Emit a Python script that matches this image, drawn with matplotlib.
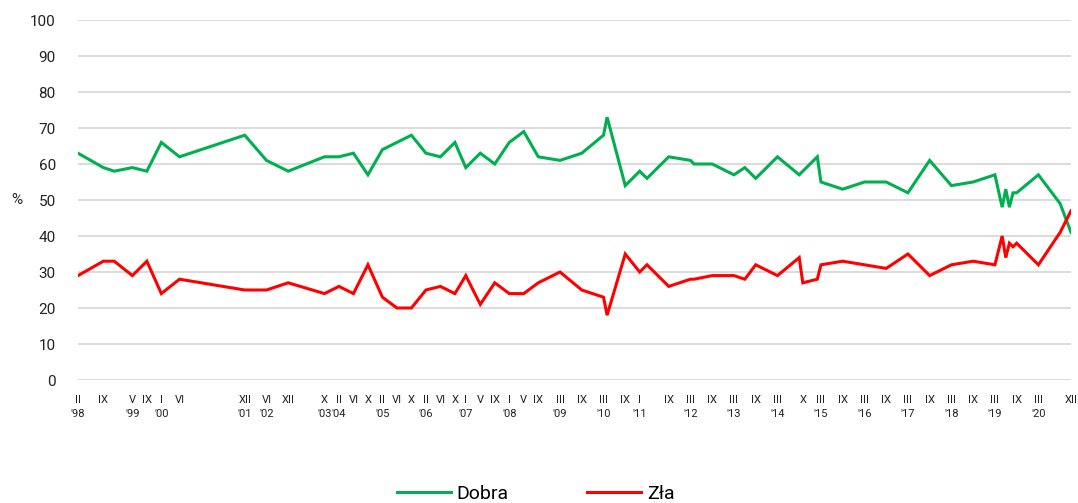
import matplotlib.pyplot as plt
import matplotlib.transforms as mtransforms

plt.rcParams['font.family'] = ['Roboto', 'DejaVu Sans']

# ======================
# data (survey dates, % answers)
# ======================
dates = [
    "1998-02", "1998-09", "1998-12", "1999-05", "1999-09", "2000-01", "2000-06",
    "2001-12", "2002-06", "2002-12", "2003-10", "2004-02", "2004-06", "2004-10",
    "2005-02", "2005-06", "2005-10", "2006-02", "2006-06", "2006-10", "2007-01",
    "2007-05", "2007-09", "2008-01", "2008-05", "2008-09", "2009-03", "2009-09",
    "2010-03", "2010-04", "2010-09", "2011-01", "2011-03", "2011-09", "2012-03",
    "2012-04", "2012-09", "2013-03", "2013-06", "2013-09", "2014-03", "2014-09",
    "2014-10", "2015-02", "2015-03", "2015-09", "2016-03", "2016-09", "2017-03",
    "2017-09", "2018-03", "2018-09", "2019-03", "2019-05", "2019-06", "2019-07",
    "2019-08", "2019-09", "2020-03", "2020-09", "2020-12",
]
dobra = [
    63, 59, 58, 59, 58, 66, 62,
    68, 61, 58, 62, 62, 63, 57,
    64, 66, 68, 63, 62, 66, 59,
    63, 60, 66, 69, 62, 61, 63,
    68, 73, 54, 58, 56, 62, 61,
    60, 60, 57, 59, 56, 62, 57,
    58, 62, 55, 53, 55, 55, 52,
    61, 54, 55, 57, 48, 53, 48,
    52, 52, 57, 49, 41,
]
zla = [
    29, 33, 33, 29, 33, 24, 28,
    25, 25, 27, 24, 26, 24, 32,
    23, 20, 20, 25, 26, 24, 29,
    21, 27, 24, 24, 27, 30, 25,
    23, 18, 35, 30, 32, 26, 28,
    28, 29, 29, 28, 32, 29, 34,
    27, 28, 32, 33, 32, 31, 35,
    29, 32, 33, 32, 40, 34, 38,
    37, 38, 32, 41, 47,
]

tick_dates = [
    "1998-02", "1998-09", "1999-05", "1999-09", "2000-01", "2000-06", "2001-12",
    "2002-06", "2002-12", "2003-10", "2004-02", "2004-06", "2004-10", "2005-02",
    "2005-06", "2005-10", "2006-02", "2006-06", "2006-10", "2007-01", "2007-05",
    "2007-09", "2008-01", "2008-05", "2008-09", "2009-03", "2009-09", "2010-03",
    "2010-09", "2011-01", "2011-09", "2012-03", "2012-09", "2013-03", "2013-09",
    "2014-03", "2014-10", "2015-03", "2015-09", "2016-03", "2016-09", "2017-03",
    "2017-09", "2018-03", "2018-09", "2019-03", "2019-09", "2020-03", "2020-12",
]
tick_roman = [
    "II", "IX", "V", "IX", "I", "VI", "XII",
    "VI", "XII", "X", "II", "VI", "X", "II",
    "VI", "X", "II", "VI", "X", "I", "V",
    "IX", "I", "V", "IX", "III", "IX", "III",
    "IX", "I", "IX", "III", "IX", "III", "IX",
    "III", "X", "III", "IX", "III", "IX", "III",
    "IX", "III", "IX", "III", "IX", "III", "XII",
]
year_dates = [
    "1998-02", "1999-05", "2000-01", "2001-12", "2002-06", "2003-10", "2004-02",
    "2005-02", "2006-02", "2007-01", "2008-01", "2009-03", "2010-03", "2011-01",
    "2012-03", "2013-03", "2014-03", "2015-03", "2016-03", "2017-03", "2018-03",
    "2019-03", "2020-03",
]
year_labels = [
    "'98", "'99", "'00", "'01", "'02", "'03", "'04",
    "'05", "'06", "'07", "'08", "'09", "'10", "'11",
    "'12", "'13", "'14", "'15", "'16", "'17", "'18",
    "'19", "'20",
]


def month_index(s):
    y, m = s.split("-")
    return (int(y) - 1998) * 12 + int(m) - 1


x = [month_index(d) for d in dates]

# ======================
# figure
# ======================
fig = plt.figure(figsize=(10.78, 5.03), dpi=100)
ax = fig.add_axes([78 / 1078, 1 - 380 / 503, (1071 - 78) / 1078, 360 / 503])

ax.plot(x, dobra, color="#00B050", lw=2.2, label="Dobra", solid_joinstyle="miter")
ax.plot(x, zla, color="#FF0000", lw=2.2, label="Zła", solid_joinstyle="miter")

ax.set_xlim(month_index("1998-02"), month_index("2020-12"))
ax.set_ylim(0, 100)
ax.set_yticks(range(0, 101, 10))
ax.yaxis.grid(True, color="#D9D9D9", lw=1.3)
ax.set_axisbelow(True)
for s in ax.spines.values():
    s.set_visible(False)
ax.tick_params(axis="y", length=0, pad=16, labelsize=11, labelcolor="#222222")

ax.set_xticks([month_index(d) for d in tick_dates])
ax.set_xticklabels(tick_roman)
ax.tick_params(axis="x", length=0, pad=11, labelsize=8, labelcolor="#222222")

trans = mtransforms.blended_transform_factory(ax.transData, ax.transAxes)
for d, lab in zip(year_dates, year_labels):
    ax.text(month_index(d), -34 / 360, lab, transform=trans, ha="center",
            va="center", fontsize=8, color="#222222")

fig.text(17 / 1078, 1 - 200 / 503, "%", ha="center", va="center",
         fontsize=11, color="#222222")

fig.legend(loc="center", bbox_to_anchor=(0.497, 1 - 494 / 503), ncol=2,
           frameon=False, fontsize=14, handlelength=2.75, handletextpad=0.3,
           columnspacing=4.06, borderpad=0)

plt.savefig("out.png", dpi=100)
